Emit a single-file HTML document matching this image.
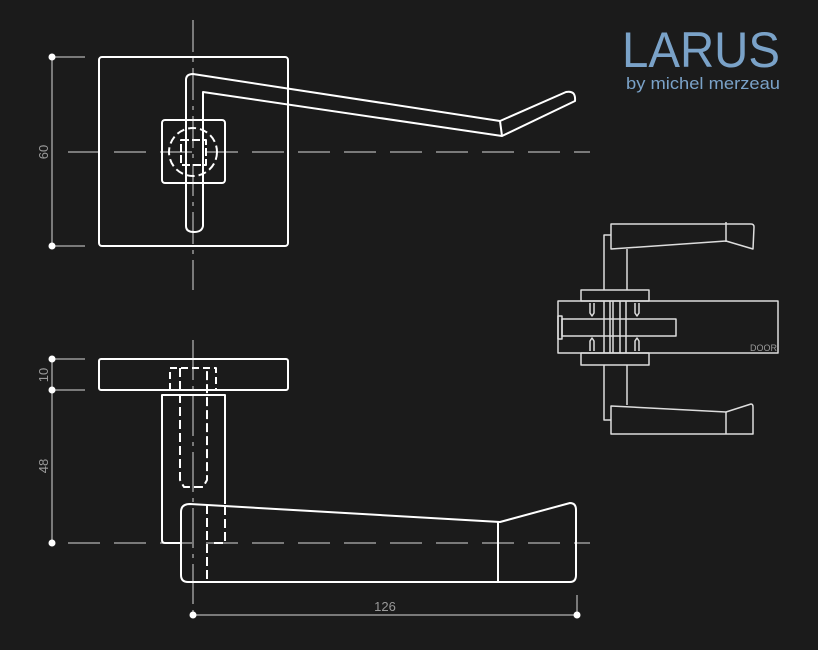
<!DOCTYPE html><html><head><style>body{margin:0;background:#1b1b1b}svg{display:block}</style></head><body>
<svg width="818" height="650" viewBox="0 0 818 650" xmlns="http://www.w3.org/2000/svg" font-family="Liberation Sans, sans-serif">
<rect width="818" height="650" fill="#1b1b1b"/>
<text x="622" y="67" font-size="50" fill="#7aa2c8" textLength="158" lengthAdjust="spacingAndGlyphs">LARUS</text>
<text x="626" y="89" font-size="17" fill="#7aa2c8" textLength="154" lengthAdjust="spacingAndGlyphs">by michel merzeau</text>
<g stroke="#9a9a9a" stroke-width="1.5" fill="none">
<line x1="68" y1="152" x2="590" y2="152" stroke-dasharray="32,14"/>
<line x1="68" y1="543" x2="590" y2="543" stroke-dasharray="32,14"/>
<line x1="193" y1="20" x2="193" y2="290" stroke-dasharray="32,6,4,6"/>
<line x1="193" y1="340" x2="193" y2="615" stroke-dasharray="40,6,4,6"/>
<line x1="52" y1="57" x2="52" y2="246"/><line x1="52" y1="57" x2="85" y2="57"/><line x1="52" y1="246" x2="85" y2="246"/>
<line x1="52" y1="359" x2="52" y2="543"/><line x1="52" y1="359" x2="85" y2="359"/><line x1="52" y1="390" x2="85" y2="390"/>
<line x1="193" y1="615" x2="577" y2="615"/><line x1="577" y1="595" x2="577" y2="615"/>
</g>
<g fill="#fff"><circle cx="52" cy="57" r="3.5"/><circle cx="52" cy="246" r="3.5"/><circle cx="52" cy="359" r="3.5"/><circle cx="52" cy="390" r="3.5"/><circle cx="52" cy="543" r="3.5"/><circle cx="193" cy="615" r="3.5"/><circle cx="577" cy="615" r="3.5"/></g>
<g fill="#9a9a9a" font-size="13">
<text transform="translate(48,152) rotate(-90)" text-anchor="middle">60</text>
<text transform="translate(48,375) rotate(-90)" text-anchor="middle">10</text>
<text transform="translate(48,466) rotate(-90)" text-anchor="middle">48</text>
<text x="385" y="611" text-anchor="middle">126</text>
<text x="750" y="351" font-size="9">DOOR</text>
</g>
<g stroke="#fff" stroke-width="2" fill="none" stroke-linejoin="round">
<rect x="99" y="57" width="189" height="189" rx="3"/>
<rect x="162" y="120" width="63" height="63" rx="3"/>
<path d="M186,226 V80 Q186,74 193,74 L500,121 L566,92 Q576,90 575,101 L502,136 L203,92 V226 Q202,232 194,232 Q186,232 186,226 Z"/>
<line x1="500" y1="121" x2="502" y2="136"/>
<circle cx="193" cy="152" r="24" stroke-dasharray="8,4"/>
<rect x="181" y="140" width="25" height="25" stroke-dasharray="8,3"/>
<rect x="99" y="359" width="189" height="31" rx="2"/>
<path d="M181,543 H165 Q162,543 162,540 V395 H225 V504"/>
<path d="M181,512 Q181,504 190,504 L500,522 L570,503 Q576,503 576,510 V575 Q576,582 570,582 H188 Q181,582 181,575 Z"/>
<line x1="498" y1="522" x2="498" y2="582"/>
<path d="M170,390 V368 H216 V390" stroke-dasharray="7,4"/>
<path d="M180,368 V480 L184,487 H203 L207,480 V368" stroke-dasharray="9,4"/>
<line x1="207" y1="505" x2="207" y2="582" stroke-dasharray="9,4"/>
<path d="M225,506 V543 H212" stroke-dasharray="9,4"/>
</g>
<g stroke="#ddd" stroke-width="1.5" fill="none" stroke-linejoin="round">
<path d="M611,224 H751 Q754,224 754,227 L753,249 L726,241 L611,249 Z"/><line x1="726" y1="222" x2="726" y2="242"/>
<path d="M611,235 H604 V290 M627,249 V290"/>
<rect x="581" y="290" width="68" height="11"/>
<rect x="558" y="301" width="220" height="52"/>
<rect x="562" y="319" width="114" height="17"/>
<rect x="558" y="316" width="4" height="23"/>
<line x1="604" y1="301" x2="604" y2="353"/><line x1="610" y1="301" x2="610" y2="353"/><line x1="613" y1="301" x2="613" y2="353"/><line x1="620" y1="301" x2="620" y2="353"/><line x1="626" y1="301" x2="626" y2="353"/>
<rect x="581" y="353" width="68" height="12"/>
<path d="M611,420 H604 V365 M627,405 V365"/>
<path d="M611,406 L726,412 L751,404 Q753,404 753,407 V434 H611 Z"/><line x1="726" y1="412" x2="726" y2="434"/>
<path d="M590,303 V313 L592,316 L594,313 V303 M635,303 V313 L637,316 L639,313 V303 M590,351 V341 L592,338 L594,341 V351 M635,351 V341 L637,338 L639,341 V351"/>
</g>
</svg>
</body></html>
